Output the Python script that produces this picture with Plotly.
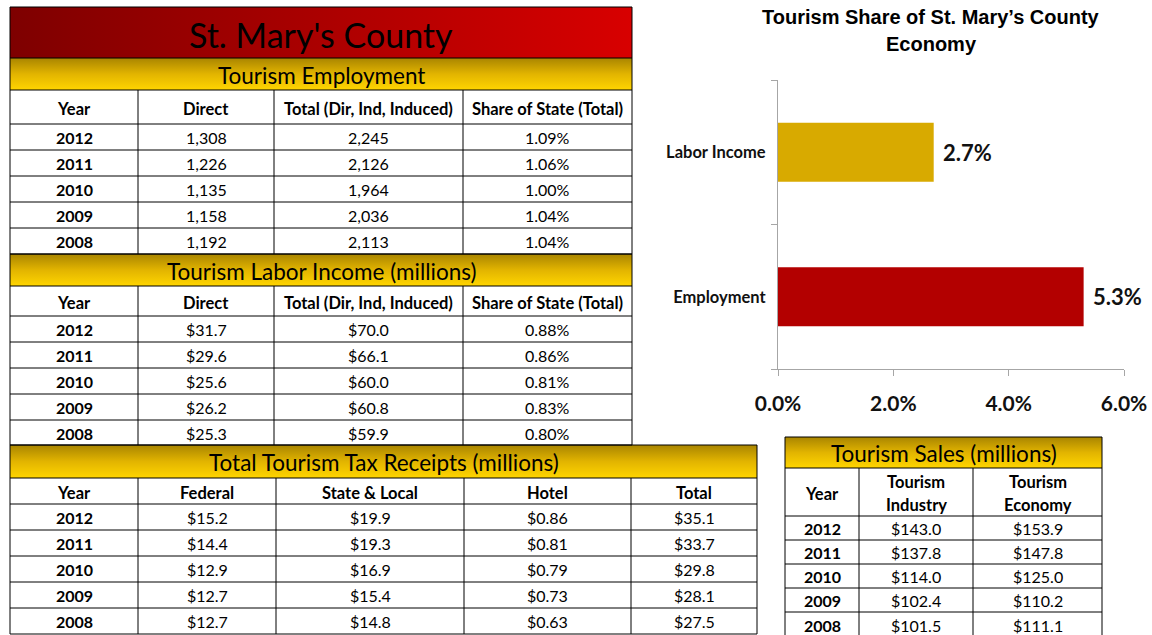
import plotly.graph_objects as go

W, H = 1152, 635
FONT = "Lato"

# ---------------- data ----------------
years = ["2012", "2011", "2010", "2009", "2008"]

emp_headers = ["Year", "Direct", "Total (Dir, Ind, Induced)", "Share of State (Total)"]
emp_direct = [1308, 1226, 1135, 1158, 1192]
emp_total = [2245, 2126, 1964, 2036, 2113]
emp_share = [1.09, 1.06, 1.00, 1.04, 1.04]

labor_headers = ["Year", "Direct", "Total (Dir, Ind, Induced)", "Share of State (Total)"]
labor_direct = [31.7, 29.6, 25.6, 26.2, 25.3]
labor_total = [70.0, 66.1, 60.0, 60.8, 59.9]
labor_share = [0.88, 0.86, 0.81, 0.83, 0.80]

tax_headers = ["Year", "Federal", "State & Local", "Hotel", "Total"]
tax_federal = [15.2, 14.4, 12.9, 12.7, 12.7]
tax_state = [19.9, 19.3, 16.9, 15.4, 14.8]
tax_hotel = [0.86, 0.81, 0.79, 0.73, 0.63]
tax_total = [35.1, 33.7, 29.8, 28.1, 27.5]

sales_headers = ["Year", "Tourism<br>Industry", "Tourism<br>Economy"]
sales_industry = [143.0, 137.8, 114.0, 102.4, 101.5]
sales_economy = [153.9, 147.8, 125.0, 110.2, 111.1]

share_categories = ["Employment", "Labor Income"]
share_values = [5.3, 2.7]
share_colors = ["#b30000", "#d8aa00"]
share_ticks = [0, 2, 4, 6]

main_title = "St. Mary's County"
chart_title_lines = ["Tourism Share of St. Mary’s County", "Economy"]

# ---------------- helpers ----------------
fig = go.Figure()
shapes = []
annotations = []


def Y(py):
    return H - py


def grad_rect(x0, y0, x1, y1, cs, orient):
    fig.add_trace(go.Scatter(
        x=[x0, x1, x1, x0, x0], y=[Y(y0), Y(y0), Y(y1), Y(y1), Y(y0)],
        xaxis="x2", yaxis="y2", mode="lines", fill="toself",
        fillgradient=dict(type=orient, colorscale=cs),
        line=dict(width=0, color="rgba(0,0,0,0)"), hoverinfo="skip", showlegend=False))


def hline(x0, x1, py, color="#000000", w=1):
    shapes.append(dict(type="line", xref="x2", yref="y2", x0=x0, x1=x1, y0=Y(py), y1=Y(py),
                       line=dict(color=color, width=w), layer="above"))


def vline(px, y0, y1, color="#000000", w=1):
    shapes.append(dict(type="line", xref="x2", yref="y2", x0=px, x1=px, y0=Y(y0), y1=Y(y1),
                       line=dict(color=color, width=w), layer="above"))


def text(px, py, s, size=14, bold=False, color="#000000", family=FONT):
    annotations.append(dict(xref="x2", yref="y2", x=px, y=Y(py), text=s, showarrow=False,
                            xanchor="center", yanchor="middle",
                            font=dict(family=family, size=size, color=color,
                                      weight="bold" if bold else "normal")))


YELLOW = [[0, "#ffd500"], [0.5, "#e2b400"], [1, "#a98500"]]
TITLE_SIZE = 22.5
HEAD_SIZE = 16.5
CELL_SIZE = 16


def table(xs, title, y_t0, y_t1, headers, y_h1, row_lines, cols):
    x0, x1 = xs[0], xs[-1]
    grad_rect(x0, y_t0, x1, y_t1, YELLOW, "vertical")
    text((x0 + x1) / 2, (y_t0 + y_t1) / 2 + 1, title, size=TITLE_SIZE)
    hline(x0, x1, y_t0)
    hline(x0, x1, y_t1)
    # header (multi-line headers drawn line by line)
    for i, hd in enumerate(headers):
        parts = hd.split("<br>")
        yc = (y_t1 + y_h1) / 2 + 1.5
        gap = 23
        start = yc - gap * (len(parts) - 1) / 2
        for k, p in enumerate(parts):
            text((xs[i] + xs[i + 1]) / 2, start + k * gap, p, size=HEAD_SIZE, bold=True)
    hline(x0, x1, y_h1)
    # rows
    for r in range(len(row_lines) - 1):
        yc = (row_lines[r] + row_lines[r + 1]) / 2 + 0.5
        for c, col in enumerate(cols):
            text((xs[c] + xs[c + 1]) / 2, yc, col[r], size=CELL_SIZE, bold=(c == 0))
        hline(x0, x1, row_lines[r + 1])
    for xv in xs:
        vline(xv, y_t1, row_lines[-1])
    vline(x0, y_t0, y_t1)
    vline(x1, y_t0, y_t1)


money1 = lambda v: f"${v:.1f}"
money2 = lambda v: f"${v:.2f}"
pct2 = lambda v: f"{v:.2f}%"

# ---------------- title bar ----------------
grad_rect(10, 7, 632, 58, [[0, "#7e0000"], [1, "#d80000"]], "horizontal")
hline(10, 632, 7)
vline(10, 7, 58)
vline(632, 7, 58)
text(321, 34, main_title, size=34)

# ---------------- employment ----------------
xs_a = [10, 138, 274, 463, 632]
table(xs_a, "Tourism Employment", 58, 90, emp_headers, 124,
      [124, 150, 176, 202, 228, 254],
      [years, [f"{v:,}" for v in emp_direct], [f"{v:,}" for v in emp_total],
       [pct2(v) for v in emp_share]])

# ---------------- labor income ----------------
table(xs_a, "Tourism Labor Income (millions)", 254, 286, labor_headers, 316,
      [316, 342, 368, 394, 420, 445],
      [years, [money1(v) for v in labor_direct], [money1(v) for v in labor_total],
       [pct2(v) for v in labor_share]])

# ---------------- tax receipts ----------------
xs_t = [10, 138, 276, 464, 631, 757]
table(xs_t, "Total Tourism Tax Receipts (millions)", 445, 478, tax_headers, 504,
      [504, 530, 556, 582, 608, 634],
      [years, [money1(v) for v in tax_federal], [money1(v) for v in tax_state],
       [money2(v) for v in tax_hotel], [money1(v) for v in tax_total]])

# ---------------- sales ----------------
xs_s = [785, 859, 973, 1102]
table(xs_s, "Tourism Sales (millions)", 437, 468, sales_headers, 516,
      [516, 540, 564, 588, 612, 637],
      [years, [money1(v) for v in sales_industry], [money1(v) for v in sales_economy]])

# ---------------- bar chart ----------------
fig.add_trace(go.Bar(
    y=share_categories, x=share_values, orientation="h", width=0.41,
    marker=dict(color=share_colors, line=dict(width=0)),
    hoverinfo="skip", showlegend=False, xaxis="x", yaxis="y"))

for cat, v in zip(share_categories, share_values):
    annotations.append(dict(xref="x", yref="y", x=v, y=cat, text=f"{v:.1f}%",
                            showarrow=False, xanchor="left", yanchor="middle", xshift=7,
                            font=dict(family=FONT, size=22, color="#111111", weight="bold")))

text(931, 17, chart_title_lines[0], size=20, bold=True, family="Liberation Sans")
text(931, 44, chart_title_lines[1], size=20, bold=True, family="Liberation Sans")

AX = "#a6a6a6"
fig.update_layout(
    width=W, height=H, margin=dict(l=0, r=0, t=0, b=0, pad=0), autosize=False,
    paper_bgcolor="white", plot_bgcolor="rgba(0,0,0,0)",
    showlegend=False,
    xaxis=dict(domain=[778 / W, 1124 / W], range=[0, 6], tickmode="array",
               tickvals=share_ticks, ticktext=[f"{v:.1f}%" for v in share_ticks],
               showline=True, linecolor=AX, linewidth=1,
               ticks="outside", ticklen=6, tickcolor=AX, showgrid=False, zeroline=False,
               tickfont=dict(family=FONT, size=21, color="#111111", weight="bold"),
               ticklabelstandoff=10, anchor="y", fixedrange=True, automargin=False),
    yaxis=dict(domain=[1 - 369 / H, 1 - 80 / H], range=[-0.5, 1.5], type="category",
               showline=True, linecolor=AX, linewidth=1, ticks="outside", ticklen=6,
               tickcolor=AX, tickson="boundaries", showgrid=False, zeroline=False,
               tickfont=dict(family=FONT, size=16.5, color="#111111", weight="bold"),
               ticklabelstandoff=8, anchor="x", fixedrange=True, automargin=False),
    xaxis2=dict(domain=[0, 1], range=[0, W], visible=False, anchor="y2", fixedrange=True,
                automargin=False),
    yaxis2=dict(domain=[0, 1], range=[0, H], visible=False, anchor="x2", fixedrange=True,
                automargin=False),
    shapes=shapes, annotations=annotations,
)

fig.write_html("out.html", config={"displayModeBar": False},
               post_script="document.body.style.margin='0';document.body.style.overflow='hidden';")
